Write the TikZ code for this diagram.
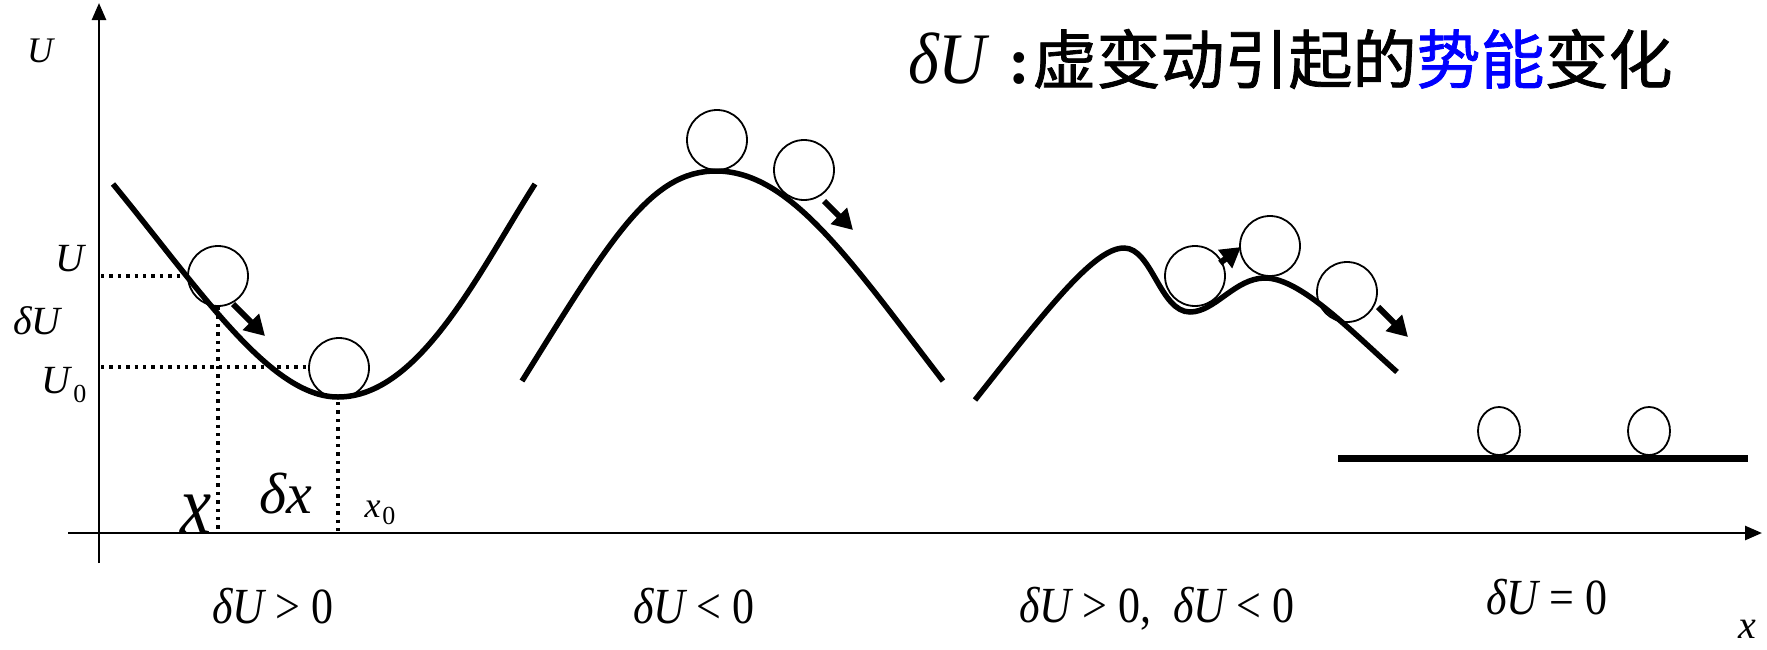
\documentclass[tikz,border=0pt]{standalone}
\usepackage{fontspec}
\setmainfont{Liberation Serif}
\newfontfamily\cjk[FakeBold=1.2]{Noto Sans CJK SC}
\usetikzlibrary{arrows.meta,shapes.geometric}
\newcommand\myfs[1]{\fontsize{#1}{#1}\selectfont}
\newcommand\tallify[2]{\scalebox{1}[#1]{#2}}
\begin{document}
\begin{tikzpicture}[x=1pt,y=-1pt,
  curve/.style={line width=5.5pt},
  axis/.style={line width=2.6pt,-{Triangle[length=17pt,width=14pt]}},
  ball/.style={circle,draw,line width=1.8pt,minimum size=60pt,inner sep=0pt},
  smallball/.style={ellipse,draw,line width=1.8pt,minimum width=42pt,minimum height=48pt,inner sep=0pt},
  guide/.style={line width=3.4pt,dash pattern=on 3.4pt off 5pt},
  push/.style={line width=6pt,-{Triangle[length=20pt,width=22pt]}},
  lbl/.style={inner sep=0pt},
]
\useasboundingbox (0,0) rectangle (1767,649);
% axes
\coordinate (yb) at (99,563); \coordinate (yt) at (99,3);
\coordinate (xl) at (68,533); \coordinate (xr) at (1762,533);
\draw[axis] (yb) -- (yt);
\draw[axis] (xl) -- (xr);
% curves
\draw[curve] (113,184) .. controls (200,290) and (270,397) .. (338,397)
  .. controls (420,397) and (480,270) .. (535,184);
\draw[curve] (522,381) .. controls (610,240) and (650,171) .. (716,171)
  .. controls (790,171) and (850,260) .. (943,381);
\draw[curve] (975,400) .. controls (1050,305) and (1095,248) .. (1124,248)
  .. controls (1152,248) and (1160,312) .. (1190,312)
  .. controls (1215,312) and (1235,278) .. (1265,278)
  .. controls (1300,278) and (1350,330) .. (1397,372);
\coordinate (fl) at (1338,458); \coordinate (fr) at (1748,458);
\draw[line width=7pt] (fl) -- (fr);
% balls
\node[ball] (b1) at (218,276) {};
\node[ball] (b2) at (339,368) {};
\node[ball] (b3) at (717,140) {};
\node[ball] (b4) at (804,170) {};
\node[ball] (b5) at (1195,276) {};
\node[ball] (b6) at (1270,246) {};
\node[ball] (b7) at (1347,292) {};
\node[smallball] (b8) at (1499,431) {};
\node[smallball] (b9) at (1649,431) {};
% push arrows
\coordinate (a1s) at (233,304); \coordinate (a1e) at (265,336);
\coordinate (a2s) at (824,201); \coordinate (a2e) at (853,230);
\coordinate (a3s) at (1220,263); \coordinate (a3e) at (1241,247);
\coordinate (a4s) at (1378,307); \coordinate (a4e) at (1408,337);
\draw[push] (a1s) -- (a1e);
\draw[push] (a2s) -- (a2e);
\draw[push] (a3s) -- (a3e);
\draw[push] (a4s) -- (a4e);
% dotted guides
\coordinate (g1a) at (101,276); \coordinate (g1b) at (189,276);
\coordinate (g2a) at (101,367); \coordinate (g2b) at (309,367);
\coordinate (g3a) at (218,307); \coordinate (g3b) at (218,531);
\coordinate (g4a) at (338,402); \coordinate (g4b) at (338,531);
\draw[guide] (g1a) -- (g1b);
\draw[guide] (g2a) -- (g2b);
\draw[guide] (g3a) -- (g3b);
\draw[guide] (g4a) -- (g4b);
% labels
\node[lbl] (lU) at (40,51) {\myfs{36}\itshape U};
\node[lbl] (lU1) at (70,259) {\myfs{40}\itshape U};
\node[lbl] (ldU) at (37,321) {\myfs{40}\itshape δU};
\node[lbl] (lU0) at (64,385) {\myfs{40}\itshape U\hspace{3pt}\raisebox{-9pt}{\upshape\myfs{26}0}};
\node[lbl] (lx) at (196,514) {\myfs{70}\tallify{1.2}{\itshape x}};
\node[lbl] (ldx) at (286,494) {\myfs{58}\itshape δx};
\node[lbl] (lx0) at (380,513) {\myfs{36}\itshape x\hspace{2pt}\raisebox{-7pt}{\upshape\myfs{26}0}};
\node[lbl] (lxax) at (1747,629) {\myfs{40}\itshape x};
\node[lbl] (c1) at (273,606) {\myfs{44}\tallify{1.15}{\itshape δU\upshape{} > 0}};
\node[lbl] (c2) at (694,606) {\myfs{44}\tallify{1.15}{\itshape δU\upshape{} < 0}};
\node[lbl] (c3) at (1157,609) {\myfs{44}\tallify{1.15}{\itshape δU\upshape{} > 0,\enspace\itshape δU\upshape{} < 0}};
\node[lbl] (c4) at (1547,597) {\myfs{44}\tallify{1.15}{\itshape δU\upshape{} = 0}};
\node[lbl,anchor=west] (title) at (908,59) {\myfs{66}\tallify{1.1}{\itshape δU}\upshape\hspace{22pt}\textbf{:}\hspace{2pt}\cjk\myfs{64}虚变动引起的\textcolor{blue}{势能}变化};
\end{tikzpicture}
\end{document}
